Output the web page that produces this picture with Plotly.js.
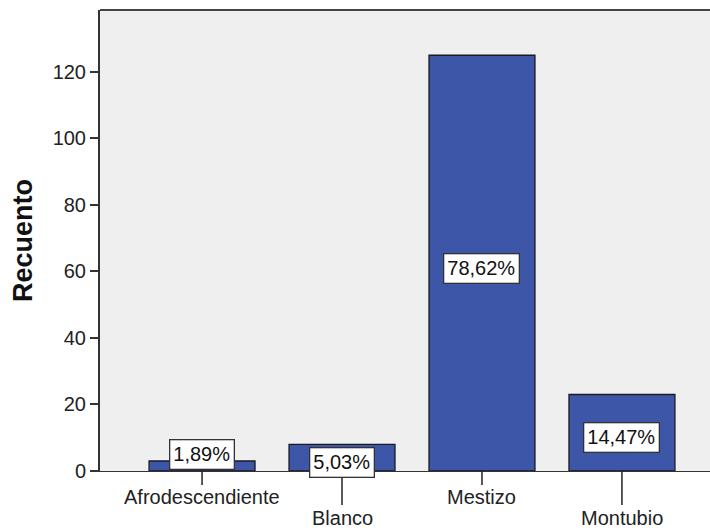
<!DOCTYPE html>
<html>
<head>
<meta charset="utf-8">
<script src="https://cdn.plot.ly/plotly-3.0.1.min.js"></script>
<style>html,body{margin:0;padding:0;background:#fff}#chart{width:710px;height:530px}</style>
</head>
<body>
<div id="chart"></div>
<script>
const categories = ["Afrodescendiente", "Blanco", "Mestizo", "Montubio"];
const counts = [3, 8, 125, 23];
const yTickVals = [0, 20, 40, 60, 80, 100, 120];
const yTitle = "Recuento";

const total = counts.reduce((a, b) => a + b, 0);
const pctText = counts.map(v => (v / total * 100).toFixed(2).replace('.', ',') + '%');
const xIdx = categories.map((c, i) => i);
const FONT = '"Liberation Sans", Arial, sans-serif';

const trace = {
  type: 'bar',
  x: xIdx,
  y: counts,
  width: 0.757,
  marker: {color: '#3e56a7', line: {color: '#1a1a24', width: 1.3}},
  hoverinfo: 'skip'
};

const annotations = [];
const shapes = [];
categories.forEach((c, i) => {
  const low = i % 2 === 1;
  annotations.push({
    x: i, y: 0, xref: 'x', yref: 'paper', yanchor: 'middle',
    yshift: low ? -47 : -26, text: c, showarrow: false,
    font: {family: FONT, size: 20, color: '#222'}
  });
  shapes.push({
    type: 'line', xref: 'x', yref: 'paper', x0: i, x1: i,
    y0: 0, y1: low ? -34 / 461 : -14 / 461,
    line: {color: '#222', width: 1.5}
  });
  const mid = counts[i] / 2 - 1.5;
  annotations.push({
    x: i, y: mid >= 1 ? mid : 5, xref: 'x', yref: 'y',
    text: pctText[i], showarrow: false,
    bgcolor: '#ffffff', bordercolor: '#333', borderwidth: 1.3, borderpad: 3,
    font: {family: FONT, size: 20, color: '#111'}
  });
});
// top border of plot area
shapes.push({type: 'line', xref: 'paper', yref: 'paper', x0: 0, x1: 1, y0: 1, y1: 1,
  line: {color: '#444', width: 2}});

const layout = {
  width: 710, height: 530,
  margin: {l: 100, r: 0, t: 10, b: 59},
  paper_bgcolor: '#ffffff',
  plot_bgcolor: '#efefef',
  showlegend: false,
  xaxis: {
    range: [-0.729, 3.629], showticklabels: false, ticks: '', showgrid: false,
    zeroline: false, showline: true, linecolor: '#333', linewidth: 1.2, fixedrange: true
  },
  yaxis: {
    range: [0, 138.6], tickvals: yTickVals, ticks: 'outside', ticklen: 8,
    tickwidth: 2, tickcolor: '#333', showgrid: false, zeroline: false,
    showline: true, linecolor: '#333', linewidth: 2,
    tickfont: {family: FONT, size: 20, color: '#222'},
    title: {text: yTitle, font: {family: FONT, size: 27, color: '#111', weight: 'bold'}, standoff: 12}
  },
  annotations: annotations,
  shapes: shapes
};

Plotly.newPlot('chart', [trace], layout, {displayModeBar: false, staticPlot: true});
</script>
</body>
</html>
